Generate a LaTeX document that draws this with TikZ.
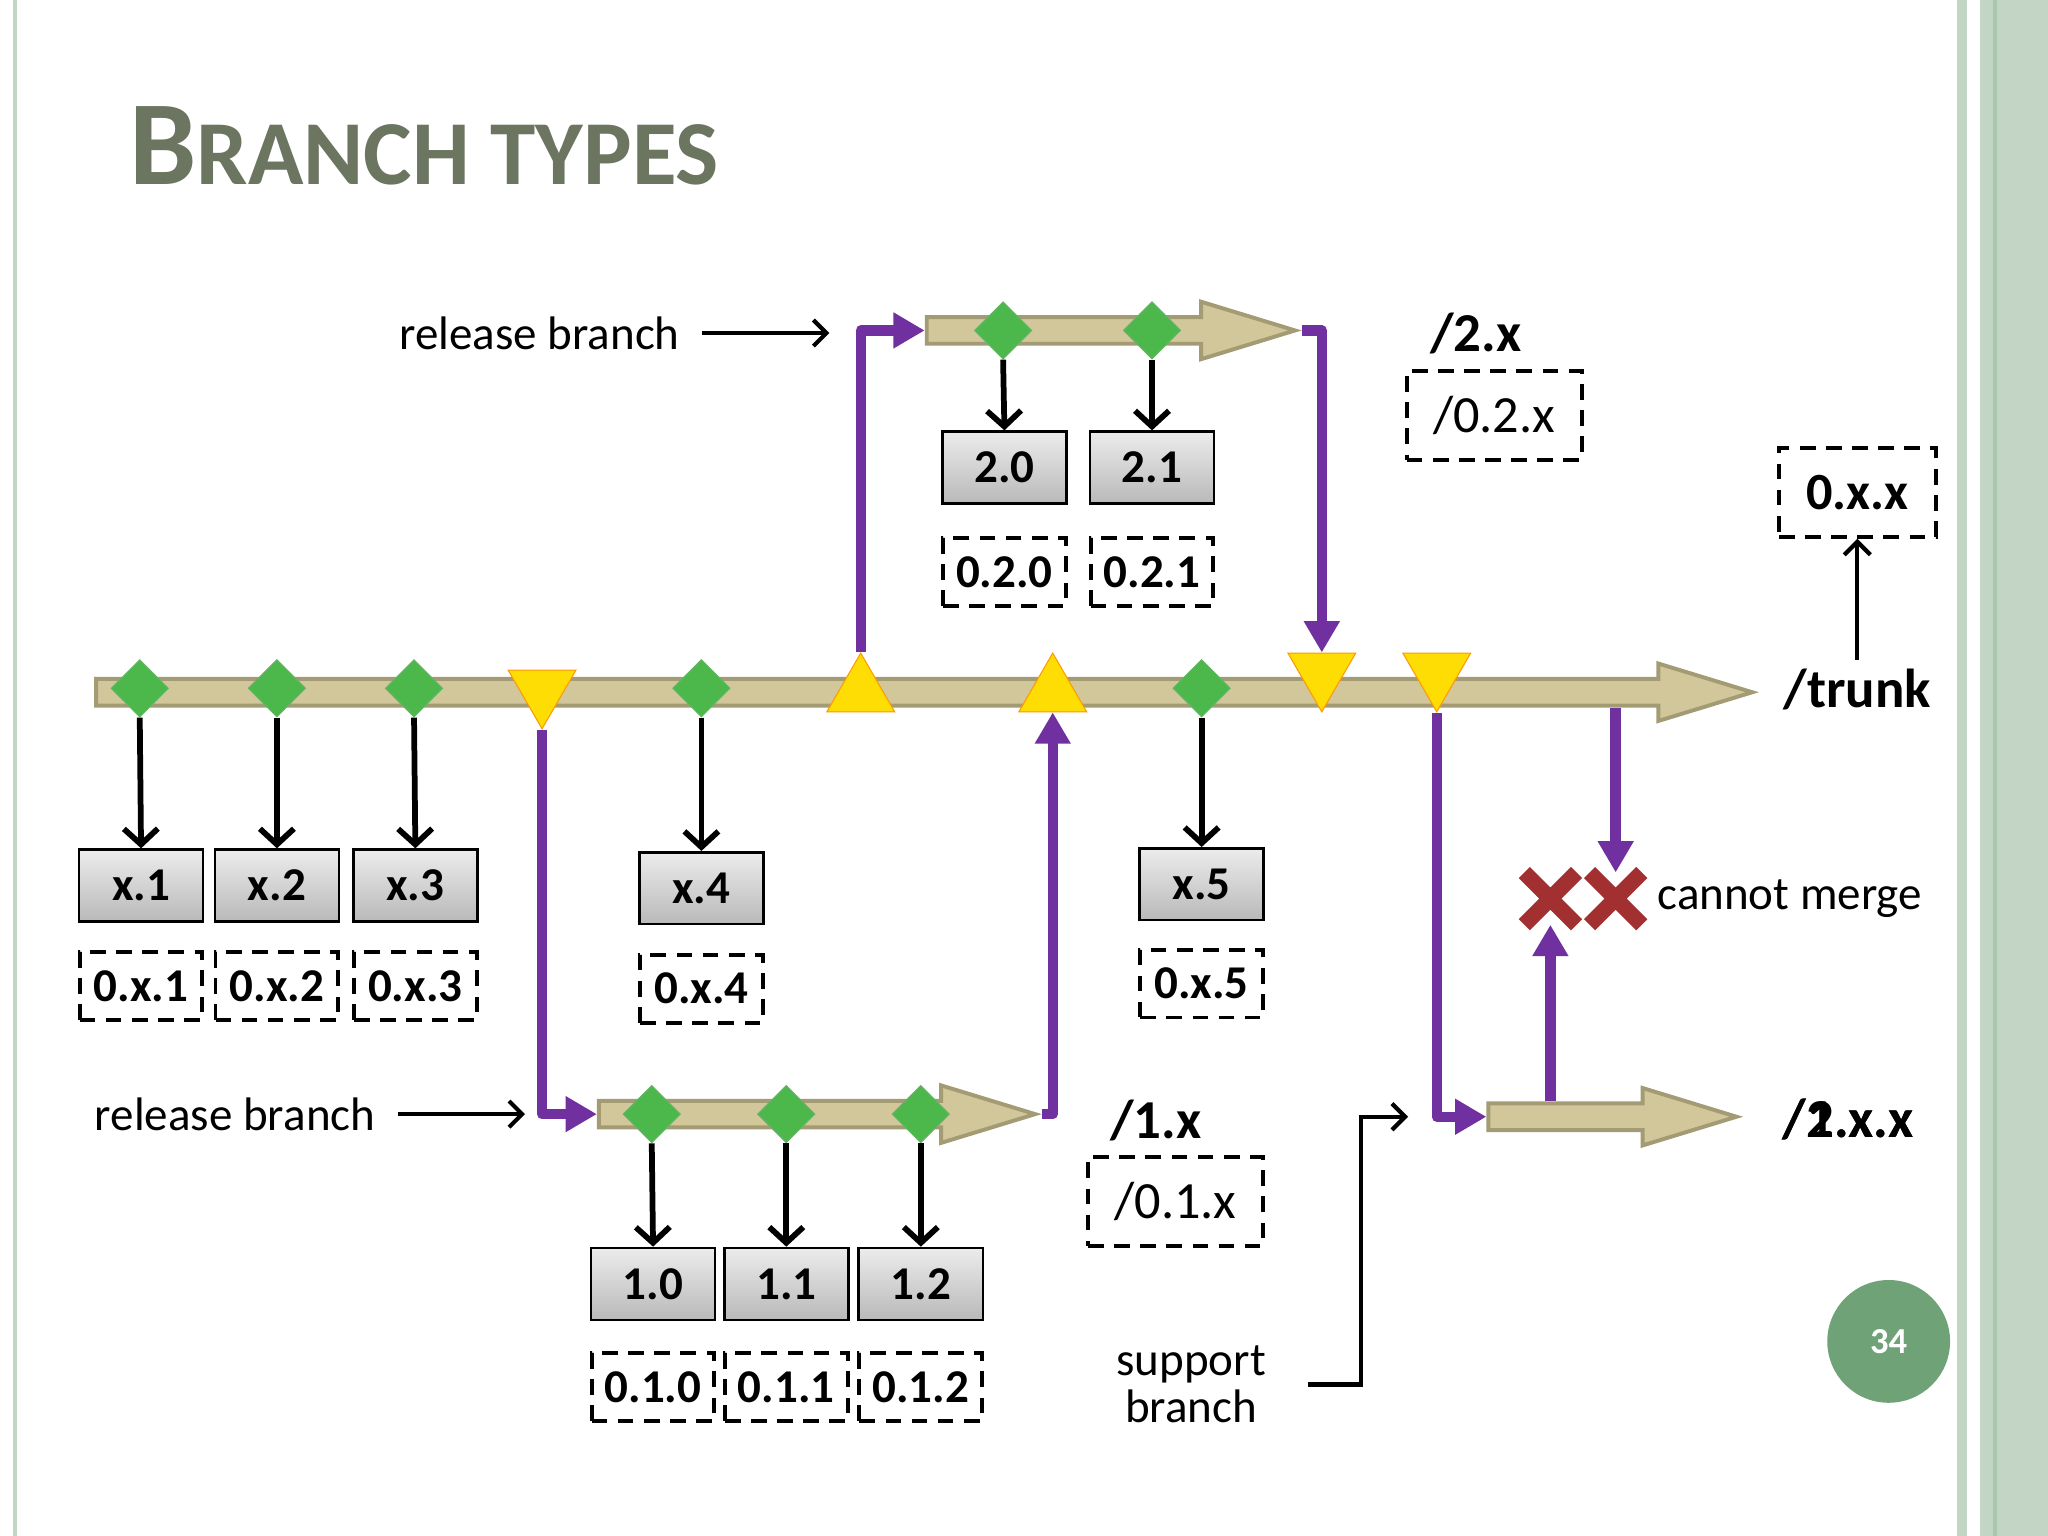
\documentclass[tikz,border=0pt]{standalone}
\usepackage{fontspec}
\setmainfont{Carlito}
\usetikzlibrary{shapes.geometric, shapes.arrows, shapes.misc, arrows.meta}
\definecolor{tanfill}{HTML}{D2C79A}
\definecolor{tanedge}{HTML}{A39B74}
\definecolor{mergepurple}{HTML}{7030A0}
\definecolor{tagred}{HTML}{A33030}
\definecolor{titlegray}{HTML}{6B7560}
\definecolor{framegreen}{HTML}{C3D6C6}
\definecolor{pagegreen}{HTML}{6FA276}
\tikzset{
  branch/.style={single arrow, draw=tanedge, fill=tanfill, line width=1.5pt,
    inner sep=4pt, minimum width=22pt, single arrow head extend=5.5pt,
    single arrow tip angle=34, anchor=west},
  commit/.style={diamond, fill=green!60!black!70, draw=green!50!black!60, minimum size=22pt, inner sep=0pt},
  cut/.style={regular polygon, regular polygon sides=3, fill=yellow!80!orange, draw=orange!80!yellow, inner sep=0pt, minimum size=30pt},
  cutdown/.style={cut, shape border rotate=180},
  tag/.style={draw=black, line width=1pt, top color=gray!15, bottom color=gray!55,
    minimum width=47.5pt, minimum height=27.5pt, font=\bfseries\fontsize{18}{18}\selectfont},
  old/.style={draw=black, dashed, dash pattern=on 6pt off 4pt, line width=1.5pt,
    minimum width=47pt, minimum height=26pt, inner sep=1pt, font=\bfseries\fontsize{18}{18}\selectfont},
  oldpath/.style={old, font=\fontsize{20}{20}\selectfont, minimum width=67pt, minimum height=34pt},
  blk/.style={line width=2.2pt, -{Straight Barb[length=6pt,width=13pt]}},
  thin/.style={line width=1.6pt, -{Straight Barb[length=5pt,width=10pt]}},
  merge/.style={draw=mergepurple, line width=4pt, line join=round, -{Triangle[length=12pt,width=13pt]}},
  label/.style={font=\fontsize{18}{18}\selectfont},
  path/.style={font=\bfseries\fontsize{21}{21}\selectfont},
  nomerge/.style={cross out, draw=tagred, line width=6pt, minimum size=14pt, inner sep=0pt}
}
\begin{document}
\begin{tikzpicture}[x=0.5pt, y=-0.5pt]
  \useasboundingbox (0,0) rectangle (1568,1176);

  % Page frame
  \fill[framegreen] (10,0) rectangle (13,1176);
  \fill[framegreen] (1498,0) rectangle (1506,1176);
  \fill[framegreen] (1516,0) rectangle (1568,1176);
  \fill[pagegreen!60] (1526,0) rectangle (1529,1176);

  % Title
  \node[anchor=west, text=titlegray, font=\bfseries] (title) at (92,112)
    {\fontsize{46}{46}\selectfont B\fontsize{35}{35}\selectfont RANCH TYPES};

  % Branches
  \node[branch, minimum height=634pt] (trunk) at (72,530) {};
  \node[branch, minimum height=141pt] (rhigh) at (708,253) {};
  \node[branch, minimum height=167pt] (rlow) at (457,853) {};
  \node[branch, minimum height=95pt] (sprt) at (1138,855) {};

  % Trunk commits and cuts
  \node[commit] (d1) at (107,527) {};
  \node[commit] (d2) at (212,527) {};
  \node[commit] (d3) at (317,527) {};
  \node[commit] (d4) at (537,527) {};
  \node[commit] (d5) at (920,527) {};
  \node[cutdown] (c1) at (415,528) {};
  \node[cut] (u1) at (659,530) {};
  \node[cut] (u2) at (806,530) {};
  \node[cutdown] (c2) at (1012,515) {};
  \node[cutdown] (c3) at (1100,515) {};

  % Branch commits
  \node[commit] (h1) at (768,253) {};
  \node[commit] (h2) at (882,253) {};
  \node[commit] (l1) at (499,853) {};
  \node[commit] (l2) at (602,853) {};
  \node[commit] (l3) at (705,853) {};

  % Tags
  \node[tag] (tx1) at (108,678) {x.1};
  \node[tag] (tx2) at (212,678) {x.2};
  \node[tag] (tx3) at (318,678) {x.3};
  \node[tag] (tx4) at (537,680) {x.4};
  \node[tag] (tx5) at (920,677) {x.5};
  \node[tag] (t20) at (769,358) {2.0};
  \node[tag] (t21) at (882,358) {2.1};
  \node[tag] (t10) at (500,983) {1.0};
  \node[tag] (t11) at (602,983) {1.1};
  \node[tag] (t12) at (705,983) {1.2};

  % Old tag names
  \node[old] (o1) at (108,755) {0.x.1};
  \node[old] (o2) at (212,755) {0.x.2};
  \node[old] (o3) at (318,755) {0.x.3};
  \node[old] (o4) at (537,757) {0.x.4};
  \node[old] (o5) at (920,753) {0.x.5};
  \node[old] (o20) at (769,438) {0.2.0};
  \node[old] (o21) at (882,438) {0.2.1};
  \node[old] (o10) at (500,1062) {0.1.0};
  \node[old] (o11) at (602,1062) {0.1.1};
  \node[old] (o12) at (705,1062) {0.1.2};

  % Commit to tag
  \foreach \d/\t in {d1/tx1, d2/tx2, d3/tx3, d4/tx4, d5/tx5, h1/t20, h2/t21, l1/t10, l2/t11, l3/t12}
    \draw[blk] (\d.south) -- (\t.north);

  % Merges
  \draw[merge] (u1.north) |- (rhigh.west);
  \draw[merge] (rhigh.east) -| (c2.north);
  \draw[merge] (c1.south) |- (rlow.west);
  \draw[merge] (rlow.east) -| (u2.south);
  \draw[merge] (c3.south) |- (sprt.west);

  % Cannot merge
  \node[nomerge] (x1) at (1187,688) {};
  \node[nomerge] (x2) at (1237,688) {};
  \node[label, anchor=west] (cm) at (1262,688) {cannot merge};
  \draw[merge] (x1 |- sprt.north) -- (x1.south);
  \draw[merge] (x2 |- trunk.south) -- (x2.north);

  % Path names
  \node[path] (ptrunk) at (1422,528) {/trunk};
  \node[old, font=\bfseries\fontsize{20}{20}\selectfont, minimum width=60pt, minimum height=34pt] (pold) at (1422,377) {0.x.x};
  \draw[thin] (ptrunk.north) -- (pold.south);
  \node[path] (p2) at (1130,255) {/2.x};
  \node[oldpath] (p2o) at (1144,318) {/0.2.x};
  \node[path] (p1) at (885,858) {/1.x};
  \node[oldpath] (p1o) at (900,920) {/0.1.x};
  \node[path] (ps1) at (1415,857) {/1.x.x};
  \node[path] (ps2) at (1415,857) {/2.x.x};

  % Labels
  \node[label] (rbh) at (413,255) {release branch};
  \coordinate (rbht) at (635,255);
  \draw[thin] (rbh.east) ++(10,0) -- (rbht);
  \node[label] (rbl) at (180,853) {release branch};
  \coordinate (rblt) at (402,853);
  \draw[thin] (rbl.east) ++(10,0) -- (rblt);
  \node[label, align=center] (sb) at (912,1060) {support\\branch};
  \coordinate (sbc) at (1042,855);
  \coordinate (sbt) at (1078,855);
  \draw[thin] (sb.east) ++(25,0) -| (sbc) -- (sbt);

  % Page number
  \node[circle, fill=pagegreen, text=white, minimum size=47pt, font=\bfseries\fontsize{14}{14}\selectfont] (pg) at (1446,1027) {34};
\end{tikzpicture}
\end{document}
